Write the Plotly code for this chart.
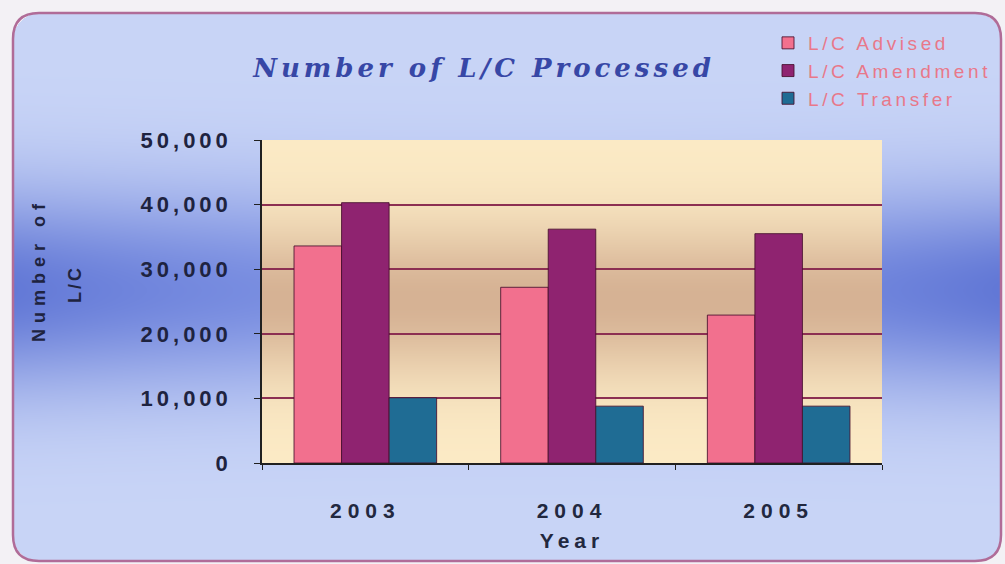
import base64
import struct
import zlib

import numpy as np
import plotly.graph_objects as go

# ---- data ----
years = ["2003", "2004", "2005"]
lc_advised = [33600, 27200, 22900]
lc_amendment = [40300, 36200, 35500]
lc_transfer = [10100, 8800, 8800]
y_ticks = [0, 10000, 20000, 30000, 40000, 50000]
y_tick_labels = ["0", "10,000", "20,000", "30,000", "40,000", "50,000"]

W, H = 1005, 564
L, R, T, B = 262, 123, 140, 101
PW, PH = W - L - R, H - T - B


def png_uri(arr):
    """Encode an HxWx3 uint8 array as a PNG data URI."""
    h, w, _ = arr.shape
    raw = b"".join(b"\x00" + arr[i].tobytes() for i in range(h))

    def chunk(tag, data):
        c = struct.pack(">I", len(data)) + tag + data
        return c + struct.pack(">I", zlib.crc32(tag + data) & 0xFFFFFFFF)

    png = (b"\x89PNG\r\n\x1a\n"
           + chunk(b"IHDR", struct.pack(">IIBBBBB", w, h, 8, 2, 0, 0, 0))
           + chunk(b"IDAT", zlib.compress(raw, 9))
           + chunk(b"IEND", b""))
    return "data:image/png;base64," + base64.b64encode(png).decode()


# blue card background with a darker band across the middle
yy, xx = np.mgrid[0:H, 0:W].astype(float)
light = np.array([201, 213, 247], float)
dark_mid = np.array([128, 148, 228], float)
dark_edge = np.array([98, 120, 214], float)
w_edge = np.clip(((xx - 500) / 500) ** 2, 0, 1)[..., None]
dark = dark_mid + (dark_edge - dark_mid) * w_edge
band = np.exp(-((yy - 290) / 100) ** 2)[..., None]
card = light + (dark - light) * band

# paper outside the rounded card
x0, y0, x1, y1, rad = 13, 13, 1001, 561, 26
cx = np.clip(xx, x0 + rad, x1 - rad)
cy = np.clip(yy, y0 + rad, y1 - rad)
outside = ((xx - cx) ** 2 + (yy - cy) ** 2) > rad ** 2
card[outside] = [243, 241, 245]
card_img = png_uri(card.astype(np.uint8))

# warm plot-area gradient
py = np.arange(PH, dtype=float) + T
p_light = np.array([252, 235, 198], float)
p_dark = np.array([214, 178, 148], float)
pf = np.exp(-((py - 300) / 75) ** 2)[:, None]
pcol = p_light + (p_dark - p_light) * pf
plot_img = png_uri(np.repeat(pcol[:, None, :], 4, axis=1).astype(np.uint8))


def px(x):
    return (x - L) / PW


def py_(y):
    return (H - B - y) / PH


def spaced(text, sp):
    return f'<span style="letter-spacing:{sp}px">{text}</span>'


fig = go.Figure()
series = [
    ("L/C Advised", lc_advised, "#f2708e"),
    ("L/C Amendment", lc_amendment, "#8f2370"),
    ("L/C Transfer", lc_transfer, "#1f6c94"),
]
for name, vals, col in series:
    fig.add_trace(go.Bar(
        x=years, y=vals, name=spaced(name, 3.6),
        marker=dict(color=col, line=dict(color="rgba(70,15,45,0.85)", width=1)),
    ))

card_path = (f"M{px(x0 + rad)},{py_(y0)} L{px(x1 - rad)},{py_(y0)} "
             f"Q{px(x1)},{py_(y0)} {px(x1)},{py_(y0 + rad)} "
             f"L{px(x1)},{py_(y1 - rad)} Q{px(x1)},{py_(y1)} {px(x1 - rad)},{py_(y1)} "
             f"L{px(x0 + rad)},{py_(y1)} Q{px(x0)},{py_(y1)} {px(x0)},{py_(y1 - rad)} "
             f"L{px(x0)},{py_(y0 + rad)} Q{px(x0)},{py_(y0)} {px(x0 + rad)},{py_(y0)} Z")

fig.update_layout(
    width=W, height=H,
    margin=dict(l=L, r=R, t=T, b=B, pad=0, autoexpand=False),
    paper_bgcolor="#f3f1f5",
    plot_bgcolor="rgba(0,0,0,0)",
    bargap=0.31, bargroupgap=0,
    images=[
        dict(source=card_img, xref="paper", yref="paper", x=px(0), y=py_(0),
             sizex=W / PW, sizey=H / PH, xanchor="left", yanchor="top",
             sizing="stretch", layer="below"),
        dict(source=plot_img, xref="paper", yref="paper", x=0, y=1,
             sizex=1, sizey=1, xanchor="left", yanchor="top",
             sizing="stretch", layer="below"),
    ],
    shapes=[dict(type="path", path=card_path, xref="paper", yref="paper",
                 line=dict(color="#b06c98", width=2.5), layer="above")],
    title=dict(
        text=spaced("Number of L/C Processed", 4),
        x=484 / W, xanchor="center", y=1 - 68 / H, yanchor="middle",
        font=dict(family="DejaVu Serif", size=26, color="#3747a6",
                  style="italic", weight="bold"),
    ),
    legend=dict(
        x=px(768), y=py_(24), xanchor="left", yanchor="top",
        bgcolor="rgba(0,0,0,0)", borderwidth=0,
        font=dict(family="Liberation Sans", size=19, color="#e8788a"),
        tracegroupgap=0, itemwidth=30,
    ),
    font=dict(family="Liberation Sans", color="#1e2340"),
    annotations=[
        dict(text=spaced("<b>Number of</b>", 6), xref="paper", yref="paper",
             x=px(39), y=py_(270), xanchor="center", yanchor="middle",
             textangle=-90, showarrow=False,
             font=dict(size=18, color="#1e2340")),
        dict(text=spaced("<b>L/C</b>", 3), xref="paper", yref="paper",
             x=px(75), y=py_(284), xanchor="center", yanchor="middle",
             textangle=-90, showarrow=False,
             font=dict(size=18, color="#1e2340")),
    ],
)

fig.update_xaxes(
    showline=True, linecolor="#202020", linewidth=1.5,
    ticks="outside", tickson="boundaries", ticklen=5, tickcolor="#202020",
    tickvals=years, ticktext=[spaced(f"<b>{y}</b>", 6) for y in years],
    tickfont=dict(size=21, color="#22283f"), ticklabelstandoff=28,
    showgrid=False,
    title=dict(text=spaced("<b>Year</b>", 5), font=dict(size=21, color="#22283f"),
               standoff=12),
)
fig.update_yaxes(
    range=[0, 50000], showline=True, linecolor="#202020", linewidth=1.5,
    ticks="outside", ticklen=6, tickcolor="#202020",
    tickvals=y_ticks, ticktext=[spaced(f"<b>{t}</b>", 4) for t in y_tick_labels],
    tickfont=dict(size=22, color="#1e2340"), ticklabelstandoff=18,
    showgrid=True, gridcolor="#8c2f52", gridwidth=2,
    zeroline=False,
)

fig.write_html("out.html")
